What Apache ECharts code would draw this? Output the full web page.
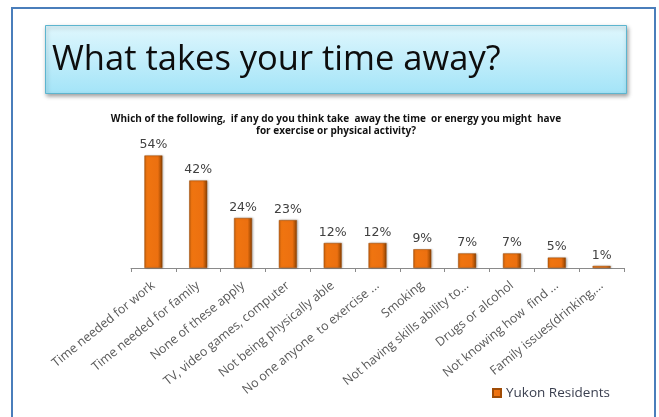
<!DOCTYPE html>
<html>
<head>
<meta charset="utf-8">
<script src="https://cdn.jsdelivr.net/npm/echarts@6/dist/echarts.min.js"></script>
<style>
html,body{margin:0;padding:0;background:#fff;}
#chart{width:659px;height:417px;}
</style>
</head>
<body>
<div id="chart"></div>
<script>
const categories = [
  "Time needed for work",
  "Time needed for family",
  "None of these apply",
  "TV, video games, computer",
  "Not being physically able",
  "No one anyone  to exercise ...",
  "Smoking",
  "Not having skills ability to...",
  "Drugs or alcohol",
  "Not knowing how  find ...",
  "Family issues(drinking,..."
];
const values = [54, 42, 24, 23, 12, 12, 9, 7, 7, 5, 1];
const seriesName = "Yukon Residents";
const titleText = "What takes your time away?";
const subtitleText = "Which of the following,  if any do you think take  away the time  or energy you might  have\nfor exercise or physical activity?";

const chart = echarts.init(document.getElementById('chart'));
const barGrad = new echarts.graphic.LinearGradient(0, 0, 1, 0, [
  {offset: 0, color: '#c65f0c'},
  {offset: 0.12, color: '#f07510'},
  {offset: 0.75, color: '#ec7010'},
  {offset: 0.9, color: '#b35406'},
  {offset: 1, color: '#7a3a05'}
]);
chart.setOption({
  animation: false,
  graphic: [
    {type: 'rect', shape: {x: 12, y: 8, width: 643, height: 430},
     style: {fill: '#fff', stroke: '#4a7ebb', lineWidth: 2}, z: 0},
    {type: 'rect', shape: {x: 45.5, y: 25.5, width: 581, height: 68},
     style: {
       fill: new echarts.graphic.LinearGradient(0, 0, 0, 1, [
         {offset: 0, color: '#e0f7fd'},
         {offset: 1, color: '#a3e4f8'}
       ]),
       stroke: '#5db5cf', lineWidth: 1,
       shadowBlur: 4, shadowColor: 'rgba(0,0,0,0.35)', shadowOffsetX: 1, shadowOffsetY: 2
     }, z: 1},
    {type: 'text', x: 52, y: 60,
     style: {text: titleText, font: '34.5px "Open Sans"', fill: '#0d0d0d', textVerticalAlign: 'middle'}, z: 2},
    {type: 'text', x: 336, y: 125,
     style: {text: subtitleText, font: 'bold 10px "Open Sans"', fill: '#111', textAlign: 'center',
             textVerticalAlign: 'middle', lineHeight: 12}, z: 2}
  ],
  grid: {left: 131, right: 35, top: 143, bottom: 149, containLabel: false},
  legend: {
    data: [seriesName], left: 487, top: 381, icon: 'rect', itemWidth: 8, itemHeight: 8,
    itemGap: 5,
    textStyle: {fontFamily: 'Open Sans', fontSize: 13.5, color: '#3a3f4f'}
  },
  xAxis: {
    type: 'category', data: categories,
    axisLine: {lineStyle: {color: '#8a8a8a', width: 1}},
    axisTick: {show: true, alignWithLabel: false, length: 4, lineStyle: {color: '#8a8a8a'}},
    axisLabel: {rotate: 39, interval: 0, margin: 16, fontFamily: 'Open Sans', fontSize: 12.5, color: '#595959'}
  },
  yAxis: {
    type: 'value', min: 0, max: 60, show: false, splitLine: {show: false}
  },
  series: [{
    name: seriesName, type: 'bar', data: values, barWidth: 18,
    itemStyle: {color: barGrad, borderColor: '#a04c06', borderWidth: 0.5,
                shadowBlur: 2, shadowColor: 'rgba(0,0,0,0.25)', shadowOffsetX: 1, shadowOffsetY: 0},
    label: {show: true, position: 'top', distance: 4, formatter: '{c}%',
            fontFamily: 'DejaVu Sans', fontSize: 12.5, color: '#404040'}
  }]
});
</script>
</body>
</html>
